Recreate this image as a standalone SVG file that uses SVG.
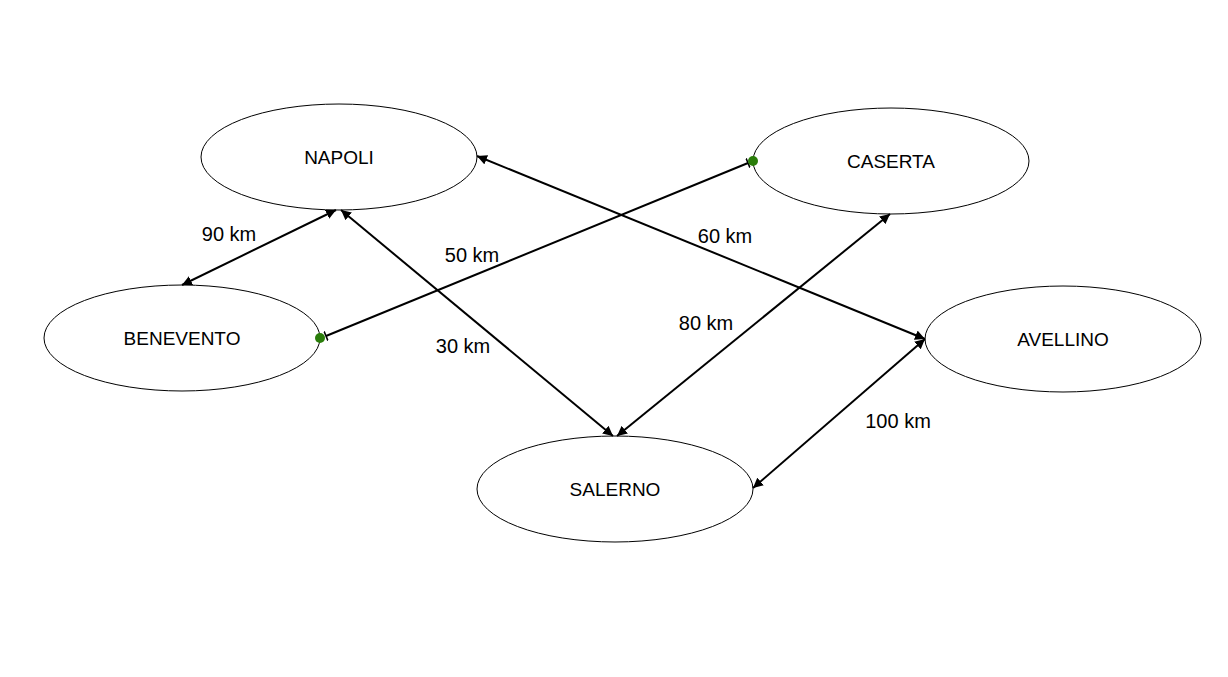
<svg xmlns="http://www.w3.org/2000/svg" width="1228" height="677" viewBox="0 0 1228 677">
<style>
.node ellipse{fill:#fff;stroke:#000;stroke-width:1}
.node text{font-family:"Liberation Sans","Open Sans",sans-serif;font-size:19px;fill:#000;text-anchor:middle;dominant-baseline:central}
.lbl{font-family:"Liberation Sans","Open Sans",sans-serif;font-size:20px;fill:#000;text-anchor:middle;dominant-baseline:central}
.edge{stroke:#000;stroke-width:2;fill:none}
</style>
<defs>
<marker id="ah" viewBox="0 0 10 10" refX="10" refY="5" markerWidth="5" markerHeight="5" orient="auto-start-reverse" markerUnits="strokeWidth">
<path d="M0,0 L10,5 L0,10 z" fill="#000"/>
</marker>
<marker id="tk" viewBox="0 0 4 10" refX="2" refY="5" markerWidth="2" markerHeight="5" orient="auto" markerUnits="strokeWidth">
<path d="M2,0 L2,10" stroke="#000" stroke-width="1.5"/>
</marker>
</defs>
<rect width="1228" height="677" fill="#fff"/>
<g id="nodes">
<g id="napoli" class="node"><ellipse cx="339" cy="157" rx="138" ry="53"/><text x="339" y="157">NAPOLI</text></g>
<g id="caserta" class="node"><ellipse cx="891" cy="161" rx="138" ry="53"/><text x="891" y="161">CASERTA</text></g>
<g id="benevento" class="node"><ellipse cx="182" cy="338" rx="138" ry="53"/><text x="182" y="338">BENEVENTO</text></g>
<g id="avellino" class="node"><ellipse cx="1063" cy="339" rx="138" ry="53"/><text x="1063" y="339">AVELLINO</text></g>
<g id="salerno" class="node"><ellipse cx="615" cy="489" rx="138" ry="53"/><text x="615" y="489">SALERNO</text></g>
</g>
<g id="connectors">
<line class="edge" x1="336" y1="210" x2="182" y2="285" marker-start="url(#ah)" marker-end="url(#ah)"/>
<line class="edge" x1="341" y1="210" x2="613" y2="436" marker-start="url(#ah)" marker-end="url(#ah)"/>
<line class="edge" x1="477" y1="156" x2="925" y2="339" marker-start="url(#ah)" marker-end="url(#ah)"/>
<line class="edge" x1="890" y1="214" x2="617" y2="436" marker-start="url(#ah)" marker-end="url(#ah)"/>
<line class="edge" x1="925" y1="339" x2="753" y2="488" marker-start="url(#ah)" marker-end="url(#ah)"/>
<line class="edge" x1="326" y1="336" x2="748" y2="163" marker-start="url(#tk)" marker-end="url(#tk)"/>
<circle cx="320" cy="338" r="5" fill="#2a7d0a"/>
<circle cx="753" cy="161" r="5" fill="#2a7d0a"/>
</g>
<g id="labels">
<text class="lbl" x="229" y="234">90 km</text>
<text class="lbl" x="472" y="255">50 km</text>
<text class="lbl" x="725" y="236">60 km</text>
<text class="lbl" x="463" y="346">30 km</text>
<text class="lbl" x="706" y="323">80 km</text>
<text class="lbl" x="898" y="421">100 km</text>
</g>
</svg>
